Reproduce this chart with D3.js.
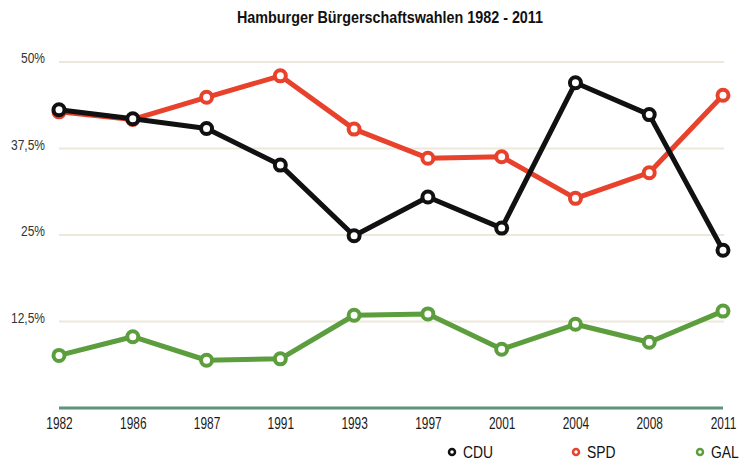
<!DOCTYPE html>
<html>
<head>
<meta charset="utf-8">
<script src="https://cdnjs.cloudflare.com/ajax/libs/d3/7.8.5/d3.min.js"></script>
<style>
  body { margin: 0; background: #fff; }
  svg text { font-family: "Liberation Sans", Arial, sans-serif; }
</style>
</head>
<body>
<div id="chart"></div>
<script>
// election years (categorical, equally spaced)
const years = ['1982', '1986', '1987', '1991', '1993', '1997', '2001', '2004', '2008', '2011'];

// vote shares in percent
const cdu = [43.1, 41.8, 40.4, 35.1, 24.9, 30.5, 26.0, 47.0, 42.4, 22.8];
const spd = [42.8, 41.7, 44.9, 48.0, 40.3, 36.1, 36.3, 30.3, 34.0, 45.2];
const gal = [7.6, 10.3, 6.9, 7.1, 13.4, 13.6, 8.5, 12.1, 9.5, 14.0];

const yTicks = [12.5, 25, 37.5, 50];
const yTickLabels = ['12,5%', '25%', '37,5%', '50%'];

const parties = ['CDU', 'SPD', 'GAL'];
const partyColors = ['#111111', '#e8412c', '#5c9e3e'];

const width = 746;
const height = 460;

// squeeze text horizontally to mimic a condensed face
function condense(sel, factor) {
  sel.each(function() {
    const len = this.getComputedTextLength();
    d3.select(this)
      .attr('textLength', len * factor)
      .attr('lengthAdjust', 'spacingAndGlyphs');
  });
}

const svg = d3.select('#chart')
  .append('svg')
  .attr('width', width)
  .attr('height', height);

// title
svg.append('text')
  .attr('x', 390)
  .attr('y', 23)
  .attr('text-anchor', 'middle')
  .attr('font-size', 17)
  .attr('font-weight', 'bold')
  .attr('fill', '#111')
  .attr('textLength', 306)
  .attr('lengthAdjust', 'spacingAndGlyphs')
  .text('Hamburger Bürgerschaftswahlen 1982 - 2011');

// scales
const x = d3.scalePoint().domain(years).range([59, 723]);
const y = d3.scaleLinear().domain([0, 50]).range([408, 62]);

// horizontal grid lines
svg.append('g')
  .selectAll('line')
  .data(yTicks)
  .enter().append('line')
  .attr('x1', 59)
  .attr('x2', 724)
  .attr('y1', d => y(d))
  .attr('y2', d => y(d))
  .attr('stroke', '#ece8da')
  .attr('stroke-width', 2);

// y labels
svg.append('g')
  .selectAll('text')
  .data(yTicks)
  .enter().append('text')
  .attr('x', 45)
  .attr('y', d => y(d) + 1)
  .attr('text-anchor', 'end')
  .attr('font-size', 15)
  .attr('fill', '#333')
  .text((d, i) => yTickLabels[i])
  .call(condense, 0.8);

// x axis (baseline + labels, no ticks)
const xAxis = svg.append('g')
  .attr('transform', 'translate(0,' + y(0) + ')')
  .call(d3.axisBottom(x).tickSize(0).tickPadding(9));
xAxis.select('.domain')
  .attr('d', 'M' + 59 + ',0H' + 723)
  .attr('stroke', '#5f947a')
  .attr('stroke-width', 3);
xAxis.selectAll('text')
  .attr('font-size', 16.5)
  .attr('fill', '#1a1a1a')
  .style('font-family', '"Liberation Sans", Arial, sans-serif')
  .call(condense, 0.72);

// series lines, drawn GAL first so CDU lies on top
const seriesData = [gal, spd, cdu];
const seriesColors = [partyColors[2], partyColors[1], partyColors[0]];

const line = d3.line()
  .x((d, i) => x(years[i]))
  .y(d => y(d));

seriesData.forEach((values, k) => {
  const g = svg.append('g');
  g.append('path')
    .datum(values)
    .attr('fill', 'none')
    .attr('stroke', seriesColors[k])
    .attr('stroke-width', 5)
    .attr('stroke-linejoin', 'round')
    .attr('d', line);
  g.selectAll('circle')
    .data(values)
    .enter().append('circle')
    .attr('cx', (d, i) => x(years[i]))
    .attr('cy', d => y(d))
    .attr('r', 5.5)
    .attr('fill', '#fff')
    .attr('stroke', seriesColors[k])
    .attr('stroke-width', 4);
});

// legend
const legendX = [452, 576, 700];
const legend = svg.append('g')
  .selectAll('g')
  .data(parties)
  .enter().append('g')
  .attr('transform', (d, i) => 'translate(' + legendX[i] + ',452)');

legend.append('circle')
  .attr('r', 3)
  .attr('fill', '#fff')
  .attr('stroke', (d, i) => partyColors[i])
  .attr('stroke-width', 2.5);

legend.append('text')
  .attr('x', 11)
  .attr('y', 6)
  .attr('font-size', 16.5)
  .attr('fill', '#111')
  .text(d => d)
  .call(condense, 0.84);
</script>
</body>
</html>
